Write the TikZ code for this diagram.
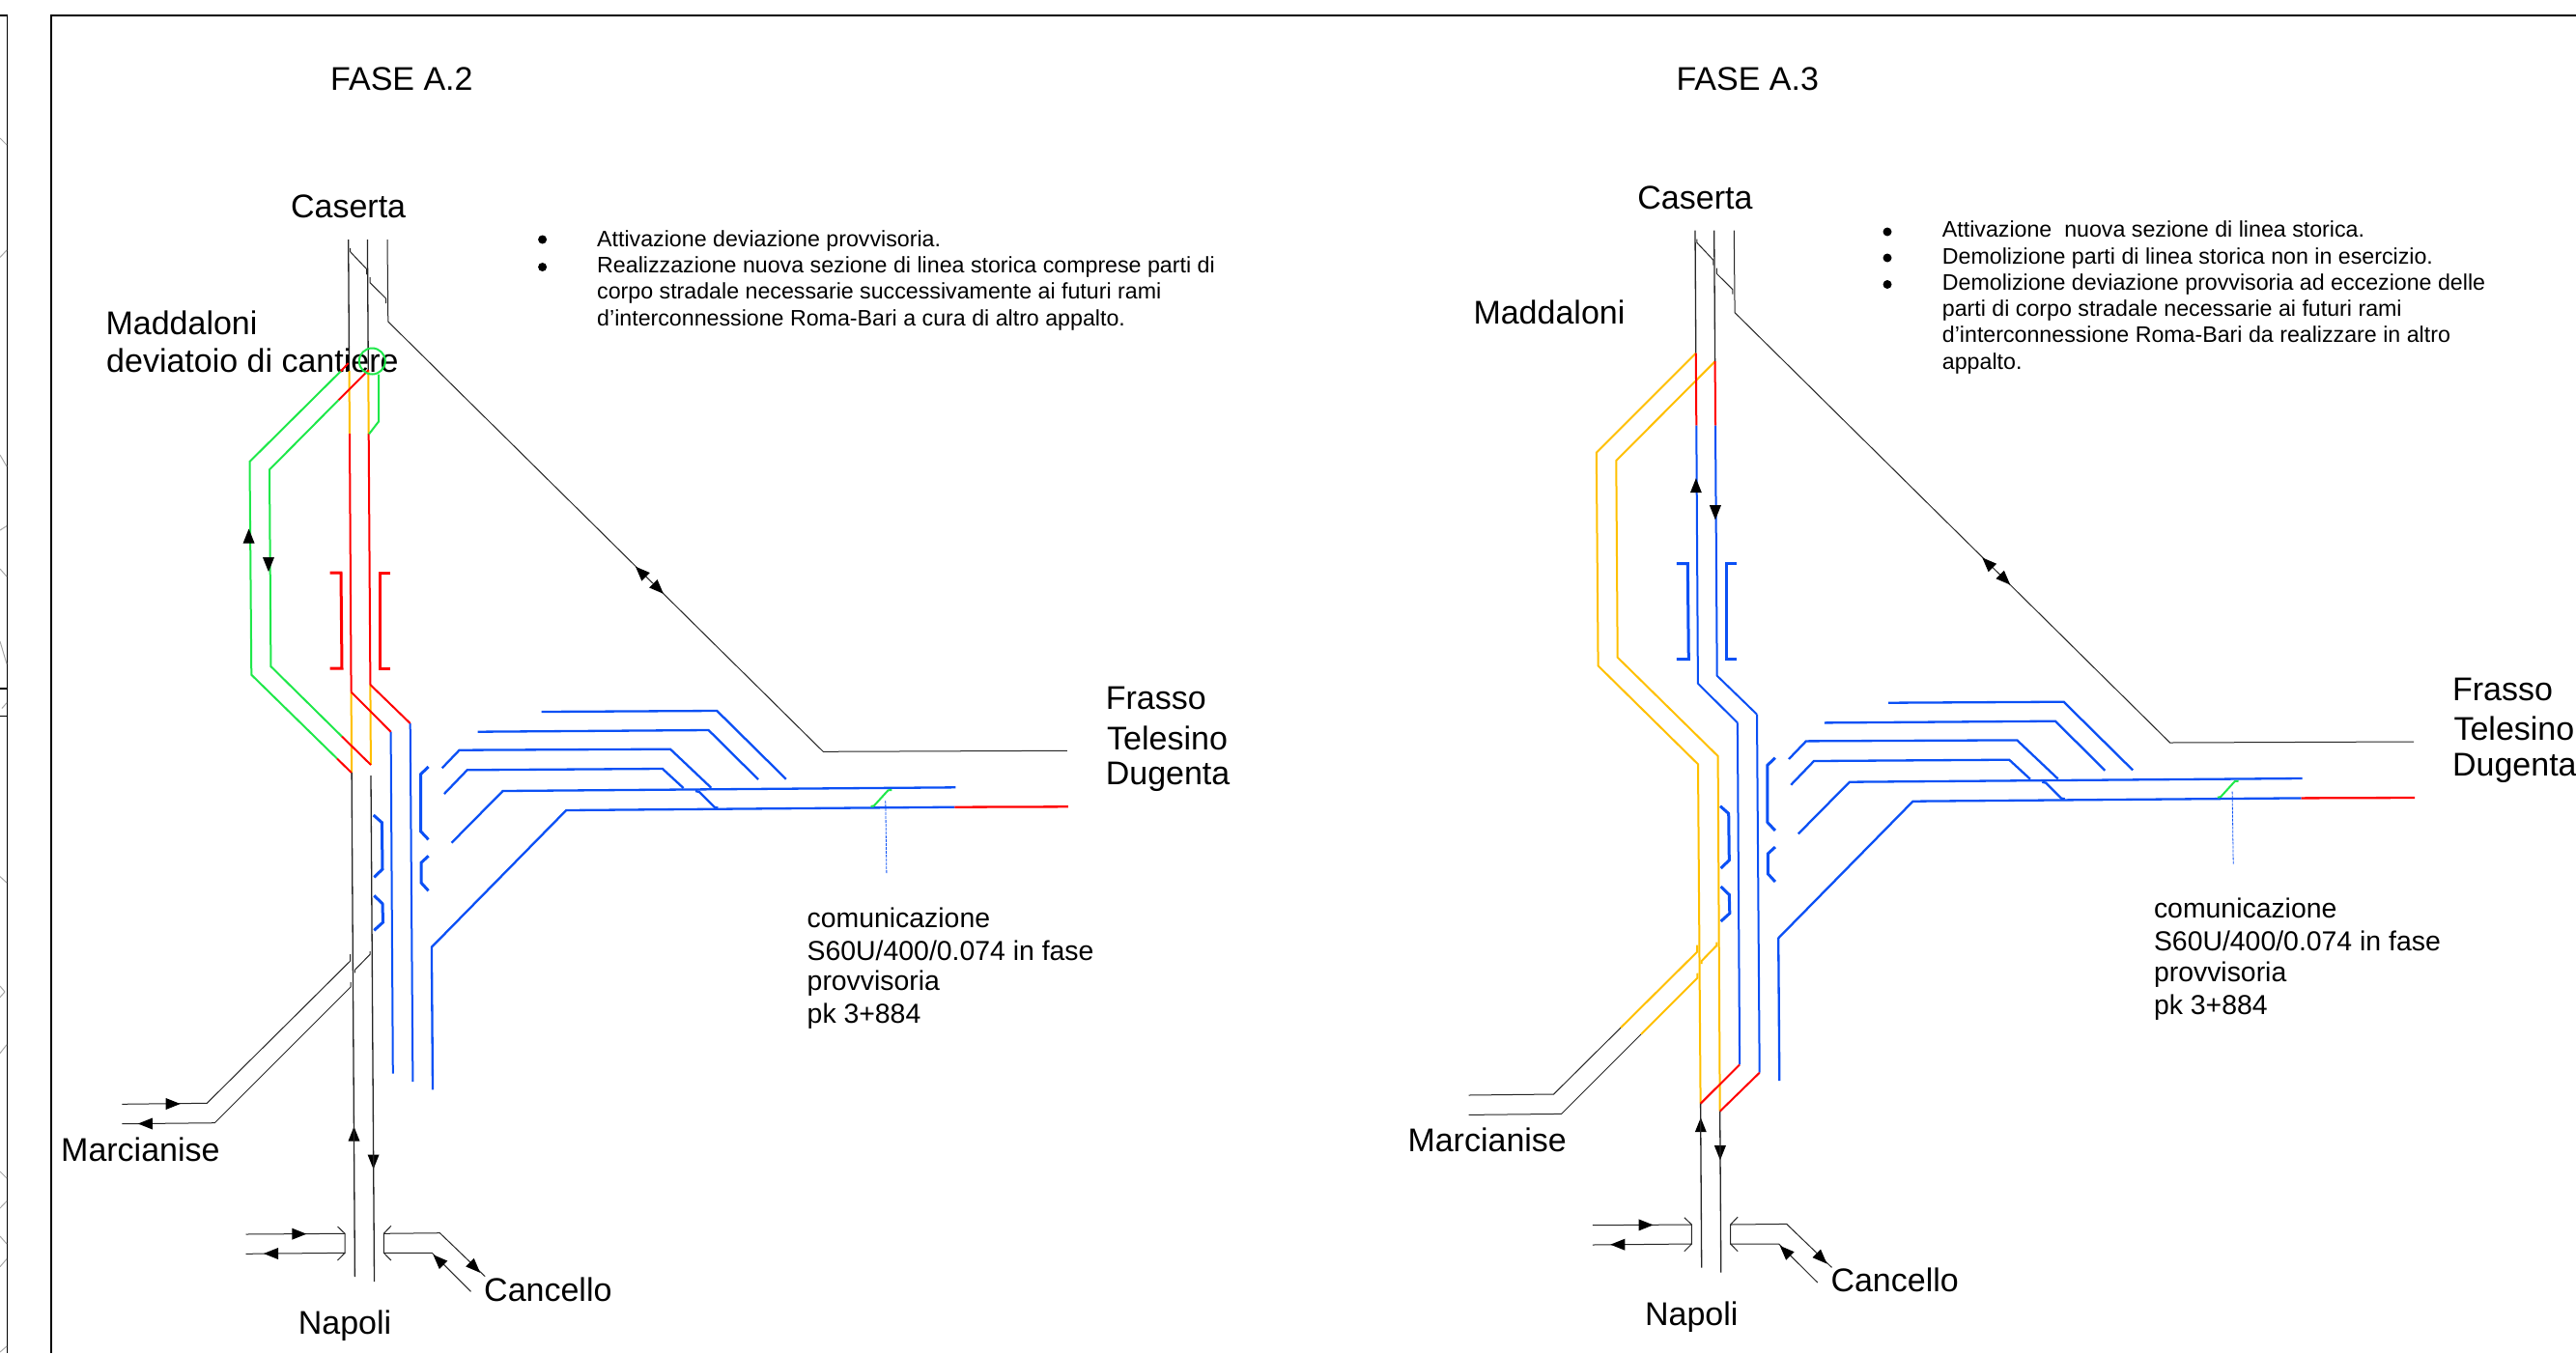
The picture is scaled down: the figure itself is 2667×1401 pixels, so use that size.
\documentclass[tikz,border=0pt]{standalone}
\usepackage{fontspec}
\setmainfont{Liberation Sans}
\definecolor{tgreen}{HTML}{1FE84A}
\definecolor{tblue}{HTML}{0B50F5}
\definecolor{torange}{HTML}{FFC000}
\definecolor{tred}{HTML}{FF0000}
\definecolor{tgray}{HTML}{A8A8A8}
\tikzset{
  frameline/.style={black,line width=1.8pt},
  fineline/.style={black!85,line width=1pt},
  track/.style={black!85,line width=1.3pt},
  grn/.style={tgreen,line width=2pt},
  org/.style={torange,line width=2pt},
  rd/.style={tred,line width=2pt},
  blu/.style={tblue,line width=2pt},
  yard/.style={tblue,line width=2.3pt},
  bracket/.style={line width=3pt},
  bigtext/.style={font=\fontsize{34}{38}\selectfont,inner sep=0pt},
  midtext/.style={font=\fontsize{28.4}{34}\selectfont,inner sep=0pt,anchor=west},
  smalltext/.style={font=\fontsize{23.2}{27}\selectfont,inner sep=0pt,anchor=base west},
  ghost/.style={tgray,line width=1pt}
}
\newcommand\ahead[3]{\fill[black,shift={(#1,#2)},rotate=#3] (7.5,0)--(-7.5,-6)--(-7.5,6)--cycle;}
% geometry common to both phases; #1 colour of the brackets
\newcommand\commonparts[1]{%
  % track C and connecting crossovers at the top
  \draw[fineline] (401,248)--(401.8,333)--(852.3,778.3)--(1104.9,777.3);
  \draw[fineline] (362.5,257)--(362.5,260.5)--(379.5,278.5)--(379.5,284);
  \draw[fineline] (383,287)--(383,292.6)--(399.5,309)--(399.5,314);
  \ahead{663.3}{592}{135}
  \ahead{681.6}{609.5}{-45}
  % brackets
  \draw[bracket,#1] (341.5,593)--(353,593)--(354,692)--(341.5,692);
  \draw[bracket,#1] (404,593)--(393.3,593)--(393.3,692)--(404,692);
  % yard
  \draw[blu] (404.6,757.7)--(406.8,1111.7);
  \draw[blu] (424.7,749)--(427.4,1120);
  \draw[yard] (988.3,835.7)--(586.2,839)--(446.9,980.7)--(448,1128.3);
  \draw[rd,line width=2.3pt] (988.3,835.7)--(1105.9,835.3);
  \draw[yard] (989.4,815.3)--(520.6,819)--(467.5,872.7);
  \draw[yard] (457.7,795.3)--(475.6,776.7)--(694,775.7)--(736.3,815.7);
  \draw[yard] (459.9,822)--(483.7,797.3)--(685.9,796)--(707.6,816);
  \draw[yard] (720,819)--(723.9,820)--(740,836)--(743.4,836.5);
  \draw[yard] (560.7,737)--(742.3,736)--(813.8,806.7);
  \draw[yard] (494.6,757.7)--(733.6,756)--(785,807);
  \draw[grn] (901.6,835)--(904.9,834.3)--(919.5,818.3)--(923.3,818);
  \draw[tblue,line width=.8pt,dash pattern=on 3pt off 1pt] (916.8,829)--(917.9,904.3);
  \draw[tblue,line width=3pt] (443.6,794)--(435.5,801.7)--(435.5,860.7)--(443.6,869.3);
  \draw[tblue,line width=3pt] (443.6,886.3)--(436,893.3)--(436,914)--(443.6,922.3);
  \draw[tblue,line width=3pt] (386.7,844)--(395.4,851.7)--(396,900)--(387.3,908.3);
  \draw[tblue,line width=3pt] (387.3,927.3)--(396,935.7)--(396.5,955)--(387.3,963.3);
  % south ends
  \ahead{366.5}{1174}{90}
  \ahead{386.6}{1203}{-90}
  \draw[fineline] (254.5,1278)--(357.1,1277.3)--(357.1,1297.3)--(254.5,1298.3);
  \draw[fineline] (349.5,1270)--(357.1,1277.3);
  \draw[fineline] (349.5,1305)--(357.1,1297.3);
  \ahead{309.8}{1277.7}{0}
  \ahead{280.5}{1298}{180}
  \draw[fineline] (502.2,1321.7)--(455.4,1276.7)--(397.3,1277.3)--(397.3,1297.3)--(447.3,1297.3)--(487.5,1337.3);
  \draw[fineline] (404.9,1269.3)--(397.3,1277.3);
  \draw[fineline] (404.9,1305)--(397.3,1297.3);
  \ahead{491.8}{1312.5}{-45}
  \ahead{453.8}{1304.5}{135}
  % labels
  \node[bigtext] (caserta) at (360.6,214) {Caserta};
  \node[bigtext,anchor=west] (marcianise) at (63,1190) {Marcianise};
  \node[bigtext] (napoli) at (357,1373) {Napoli};
  \node[bigtext,anchor=west] (cancello) at (501,1335) {Cancello};
  \node[bigtext,anchor=west] (frasso) at (1144.6,723) {Frasso};
  \node[bigtext,anchor=west] (telesino) at (1146,764) {Telesino};
  \node[bigtext,anchor=west] (dugenta) at (1144.6,804.5) {Dugenta};
  \node[midtext] (com1) at (835.5,950) {comunicazione};
  \node[midtext] (com2) at (835.5,984) {S60U/400/0.074 in fase};
  \node[midtext] (com3) at (835.5,1018) {provvisoria};
  \node[midtext] (com4) at (835.5,1052) {pk 3+884};
}
\begin{document}
\begin{tikzpicture}[x=1pt,y=-1pt]
\useasboundingbox (0,0) rectangle (2667,1401);
\fill[white] (0,0) rectangle (2667,1401);
% sheet frames
\draw[frameline] (0,16)--(7.5,16)--(7.5,1401);
\draw[frameline] (53.3,1401)--(53.3,16)--(2667,16);
\draw[frameline] (0,713)--(7.5,713);
\draw[frameline] (0,741.5)--(7.5,741.5);
% traces of the neighbouring sheet
\foreach \a/\b/\c/\d in {0/143/7/150,0/266.5/7/259,0/471/7/483,0/549/7/544.6,0/589/7/597,0/664/7/687.5,
  2/733.5/7/727.7,0/907.6/7/914,0/1021/5/1027,5/1027/0/1032.6,0/1090.6/7/1081.7,0/1213/7/1220,0/1251/7/1243.7,
  0/1280/7/1288,0/1311.6/7/1303.6,0/1400/7/1394}
  \draw[ghost] (\a,\b)--(\c,\d);
% ===== FASE A.2 =====
\begin{scope}
  \commonparts{tred}
  \node[bigtext,anchor=west] (fase2) at (342,82) {FASE A.2};
  \node[bigtext,anchor=west] (madd2) at (109.4,334) {Maddaloni};
  \node[bigtext,anchor=west] (dev2) at (110,373) {deviatoio di cantiere};
  % main tracks
  \draw[track] (360.7,248)--(361.5,384);
  \draw[org] (361.5,384)--(362,449);
  \draw[rd] (362,449)--(363.6,716.6);
  \draw[org] (363.6,716.6)--(364.1,800);
  \draw[track] (364.1,800)--(367.4,1322);
  \draw[track] (380.4,248)--(381.3,384);
  \draw[org] (381.3,384)--(381.7,449);
  \draw[rd] (381.7,449)--(383.4,709);
  \draw[org] (383.4,709)--(383.9,792);
  \draw[track] (384,803)--(387.5,1327);
  % deviation
  \draw[rd] (360.7,376)--(352.7,384.5);
  \draw[grn] (352.7,384.5)--(258.5,478)--(260.3,698.7)--(349,785.5);
  \draw[rd] (349,785.5)--(363.8,800);
  \draw[rd] (381.7,383)--(350.4,414.3);
  \draw[grn] (350.4,414.3)--(279,486.3)--(280.4,690)--(354,762.6);
  \draw[rd] (354,762.6)--(384,792);
  \draw[grn] (385.3,374) circle (13.5);
  \draw[grn] (392,387.5)--(392,436.5)--(382,449.5);
  \draw[rd] (363.6,716.6)--(404.6,757.7);
  \draw[rd] (383.4,709)--(424.7,749);
  \ahead{257.6}{555}{90}
  \ahead{278}{584.5}{-90}
  % Marcianise
  \draw[fineline] (126.3,1143.3)--(214.3,1142.3)--(362.7,995)--(362.7,988);
  \draw[fineline] (126.3,1163.7)--(222.3,1162.7)--(363,1022)--(363.2,1017);
  \draw[fineline] (367.4,1007.3)--(367.4,1004.3)--(383,988.3)--(383,985);
  \ahead{179.2}{1143}{0}
  \ahead{150.4}{1163.5}{180}
  % notes
  \fill (561.6,248) circle (4.5);
  \fill (561.6,276.5) circle (4.5);
  \node[smalltext] (n1) at (618,255) {Attivazione deviazione provvisoria.};
  \node[smalltext] (n2) at (618,282) {Realizzazione nuova sezione di linea storica comprese parti di};
  \node[smalltext] (n3) at (618,309.5) {corpo stradale necessarie successivamente ai futuri rami};
  \node[smalltext] (n4) at (618,337) {d'interconnessione Roma-Bari a cura di altro appalto.};
\end{scope}
% ===== FASE A.3 =====
\begin{scope}[shift={(1394.3,-9.3)}]
  \commonparts{tblue}
  \node[bigtext,anchor=west] (fase3) at (341,91.3) {FASE A.3};
  \node[bigtext,anchor=west] (madd3) at (131,333) {Maddaloni};
  % orange deviation and its continuation
  \draw[org] (361.5,375)--(258.5,478)--(260.3,698.7)--(363.7,800.6)--(366.3,1152);
  \draw[org] (381.3,383.5)--(279,486.3)--(280.4,690)--(384.3,792.2)--(386.4,1160);
  % main tracks
  \draw[track] (360.7,248)--(361.5,375);
  \draw[rd] (361.5,375)--(362,450);
  \draw[blu] (362,450)--(363.6,717)--(404.6,757.7);
  \draw[rd] (406.8,1111.7)--(366.3,1152);
  \draw[track] (366.3,1152)--(367.4,1322);
  \draw[track] (380.4,248)--(381.3,383.5);
  \draw[rd] (381.3,383.5)--(381.7,450);
  \draw[blu] (381.7,450)--(383.4,709)--(424.7,749);
  \draw[rd] (427.4,1120)--(386.4,1160);
  \draw[track] (386.4,1160)--(387.5,1327);
  \ahead{361.6}{512}{90}
  \ahead{381.6}{540}{-90}
  % Marcianise
  \draw[fineline] (126.3,1143.3)--(214.3,1142.3)--(283.7,1073.4);
  \draw[org] (283.7,1073.4)--(362.7,995)--(362.7,988);
  \draw[fineline] (126.3,1163.7)--(222.3,1162.7)--(304.7,1080.3);
  \draw[org] (304.7,1080.3)--(363,1022)--(363.2,1017);
  \draw[org] (367.4,1007.3)--(367.4,1004.3)--(383,988.3)--(383,985);
  % notes
  \fill (559.7,249.3) circle (4.5);
  \fill (559.7,276.3) circle (4.5);
  \fill (559.7,303.8) circle (4.5);
  \node[smalltext] (m1) at (616.4,254.5) {Attivazione\ \ nuova sezione di linea storica.};
  \node[smalltext] (m2) at (616.4,282.3) {Demolizione parti di linea storica non in esercizio.};
  \node[smalltext] (m3) at (616.4,309.5) {Demolizione deviazione provvisoria ad eccezione delle};
  \node[smalltext] (m4) at (616.4,337) {parti di corpo stradale necessarie ai futuri rami};
  \node[smalltext] (m5) at (616.4,364) {d'interconnessione Roma-Bari da realizzare in altro};
  \node[smalltext] (m6) at (616.4,392) {appalto.};
\end{scope}
\end{tikzpicture}
\end{document}
